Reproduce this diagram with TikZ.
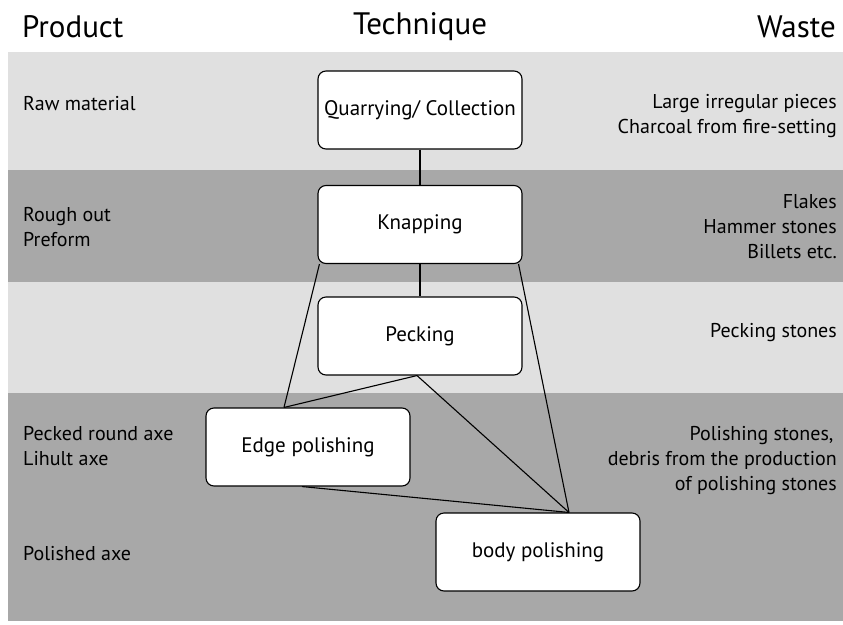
\documentclass[tikz,border=0pt]{standalone}
\usepackage{fontspec}
\setmainfont{PT Sans}
\definecolor{lightband}{gray}{0.88}
\definecolor{darkband}{gray}{0.66}

\begin{document}
\begin{tikzpicture}[x=1pt,y=-1pt,
    stage/.style={draw, line width=1.1pt, rounded corners=8pt, fill=white,
      minimum width=204pt, minimum height=78pt, inner sep=0pt,
      font=\fontsize{21}{24}\selectfont},
    head/.style={font=\fontsize{31}{34}\selectfont, inner sep=0pt},
    side/.style={font=\fontsize{20}{25}\selectfont, inner sep=0pt},
    link/.style={line width=1.1pt}]
    \useasboundingbox (0,0) rectangle (843,624);

    % Hintergrundstreifen
    \fill[lightband] (8,52) rectangle (843,170);
    \fill[darkband] (8,170) rectangle (843,282);
    \fill[lightband] (8,282) rectangle (843,393);
    \fill[darkband] (8,393) rectangle (843,621);

    % Ueberschriften
    \node (hprod) at (22,27) [head, anchor=west] {Product};
    \node (htech) at (420,27) [head] {Technique};
    \node (hwaste) at (836,27) [head, anchor=east] {Waste};

    % Arbeitsschritte
    \node (quarry) at (420,110) [stage] {Quarrying/ Collection};
    \node (knap) at (420,224.5) [stage] {Knapping};
    \node (peck) at (420,336) [stage] {Pecking};
    \node (edge) at (308,447) [stage] {Edge polishing};
    \node (body) at (538,552) [stage] {body polishing};

    % Verbindungen
    \draw[link] (quarry.south) -- (knap.north);
    \draw[link] (knap.south) -- (peck.north);
    \draw[link] ([xshift=2pt]knap.south west) -- ([xshift=-24pt]edge.north);
    \draw[link] ([xshift=-4pt]knap.south east) -- ([xshift=31pt]body.north);
    \draw[link] ([xshift=-3pt]peck.south) -- ([xshift=-24pt]edge.north);
    \draw[link] ([xshift=-3pt]peck.south) -- ([xshift=31pt]body.north);
    \draw[link] ([xshift=-6pt]edge.south) -- ([xshift=31pt]body.north);

    % Produkte
    \node (raw) at (23,104) [side, anchor=west] {Raw material};
    \node (rough) at (23,227) [side, anchor=west, align=left] {Rough out\\Preform};
    \node (pecked) at (23,446) [side, anchor=west, align=left] {Pecked round axe\\Lihult axe};
    \node (polished) at (23,554) [side, anchor=west] {Polished axe};

    % Abfall
    \node (wraw) at (837,116) [side, anchor=east, align=right] {Large irregular pieces\\Charcoal from fire-setting};
    \node (wknap) at (837,227) [side, anchor=east, align=right] {Flakes\\Hammer stones\\Billets etc.};
    \node (wpeck) at (837,333) [side, anchor=east] {Pecking stones};
    \node (wpol) at (837,461) [side, anchor=east, align=right] {Polishing stones,\,\\debris from the production\\of polishing stones};
\end{tikzpicture}
\end{document}
